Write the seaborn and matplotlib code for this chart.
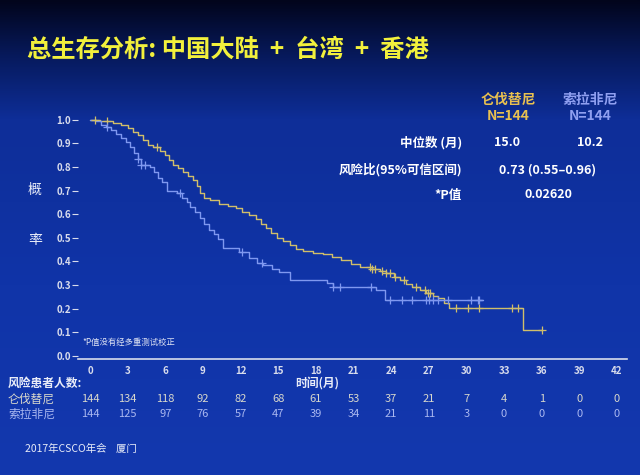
import numpy as np
import pandas as pd
import matplotlib
matplotlib.use("Agg")
import matplotlib.pyplot as plt
from matplotlib.colors import LinearSegmentedColormap
import seaborn as sns

# ----------------------------------------------------
# DATA
# ----------------------------------------------------

len_time = [0, 0.8, 1.8, 2.5, 3.0, 3.4, 3.8, 4.2, 4.6, 5.0, 5.6, 6.0, 6.3, 6.6, 7.0,
            7.4, 7.8, 8.2, 8.5, 8.8, 9.1, 9.6, 10.3, 11.0, 11.6, 12.1, 12.7, 13.2,
            13.6, 14.0, 14.4, 14.9, 15.4, 15.9, 16.4, 17.0, 17.8, 18.6, 19.3, 20.0,
            20.8, 21.5, 22.5, 23.1, 23.6, 24.2, 24.7, 25.2, 25.7, 26.3, 26.8, 27.3,
            27.7, 28.2, 28.6, 34.5, 36.0]
len_surv = [1.0, 0.993, 0.986, 0.979, 0.965, 0.95, 0.935, 0.915, 0.895, 0.885, 0.87,
            0.85, 0.83, 0.81, 0.795, 0.78, 0.76, 0.745, 0.72, 0.69, 0.67, 0.66, 0.645,
            0.635, 0.625, 0.61, 0.595, 0.58, 0.56, 0.54, 0.52, 0.50, 0.485, 0.47,
            0.455, 0.445, 0.435, 0.43, 0.42, 0.405, 0.39, 0.377, 0.37, 0.36, 0.35,
            0.335, 0.32, 0.305, 0.29, 0.28, 0.267, 0.255, 0.245, 0.225, 0.203, 0.11,
            0.11]
len_censor = [0.4, 1.35, 5.3, 22.3, 22.5, 22.7, 23.3, 23.6, 23.9, 24.3, 25.0, 26.0,
              26.7, 26.9, 27.1, 29.2, 30.1, 31.0, 33.6, 34.1, 36.0]

sor_time = [0, 0.5, 0.9, 1.3, 1.7, 2.1, 2.5, 2.9, 3.2, 3.5, 3.8, 4.1, 4.8, 5.1, 5.4,
            5.7, 6.1, 6.9, 7.3, 7.7, 8.0, 8.4, 8.8, 9.1, 9.5, 9.9, 10.2, 10.6, 11.9,
            12.7, 13.3, 13.8, 14.5, 15.1, 15.9, 18.9, 19.4, 22.8, 23.5, 31.3]
sor_surv = [1.0, 0.993, 0.98, 0.97, 0.955, 0.94, 0.925, 0.905, 0.886, 0.86, 0.835,
            0.81, 0.80, 0.78, 0.755, 0.735, 0.70, 0.69, 0.67, 0.65, 0.63, 0.61, 0.585,
            0.56, 0.535, 0.515, 0.495, 0.457, 0.44, 0.415, 0.395, 0.385, 0.37, 0.356,
            0.322, 0.31, 0.292, 0.28, 0.237, 0.237]
sor_censor = [1.35, 3.8, 4.1, 4.4, 7.2, 12.1, 13.7, 19.4, 19.9, 22.4, 23.9, 24.9, 25.7,
              26.8, 27.0, 27.3, 27.7, 28.5, 30.4, 30.9, 31.0]

xticks = list(range(0, 43, 3))
yticks = [0.0, 0.1, 0.2, 0.3, 0.4, 0.5, 0.6, 0.7, 0.8, 0.9, 1.0]
risk_len = [144, 134, 118, 92, 82, 68, 61, 53, 37, 21, 7, 4, 1, 0, 0]
risk_sor = [144, 125, 97, 76, 57, 47, 39, 34, 21, 11, 3, 0, 0, 0, 0]

arm_names = ["仑伐替尼", "索拉非尼"]
medians = ["15.0", "10.2"]
hazard_ratio = "0.73 (0.55–0.96)"
p_value = "0.02620"

LEN_COLOR = "#d0be6a"
SOR_COLOR = "#7f98f0"

# ----------------------------------------------------
# FIGURE
# ----------------------------------------------------

sns.set_style("white")
plt.rcParams["font.family"] = ["Noto Sans CJK SC", "DejaVu Sans"]

fig = plt.figure(figsize=(6.4, 4.75), dpi=100)

# gradient background
bg = fig.add_axes([0, 0, 1, 1], zorder=-10)
cmap = LinearSegmentedColormap.from_list(
    "slide", [(0.0, "#02051c"), (0.12, "#071a5e"), (0.25, "#0e2e98"),
              (0.6, "#1034a8"), (1.0, "#1338ae")])
grad = np.linspace(0, 1, 256).reshape(-1, 1)
bg.imshow(grad, aspect="auto", cmap=cmap, extent=[0, 1, 0, 1], origin="upper")
bg.set_axis_off()

ax = fig.add_axes([0.1219, 0.2442, 0.8578, 0.5284])
ax.set_facecolor("none")


def step_value(times, surv, t):
    idx = np.searchsorted(times, t, side="right") - 1
    return surv[max(idx, 0)]


for times, surv, cens, color in [(len_time, len_surv, len_censor, LEN_COLOR),
                                 (sor_time, sor_surv, sor_censor, SOR_COLOR)]:
    df = pd.DataFrame({"t": times, "s": surv})
    sns.lineplot(data=df, x="t", y="s", ax=ax, color=color, lw=1.0,
                 drawstyle="steps-post", sort=False, estimator=None)
    cdf = pd.DataFrame({"t": cens, "s": [step_value(times, surv, c) for c in cens]})
    sns.scatterplot(data=cdf, x="t", y="s", ax=ax, color=color, marker="+",
                    s=28, linewidth=0.9, zorder=3)

ax.set_xlim(-0.96, 42.8)
ax.set_ylim(-0.013, 1.05)
ax.set_xticks(xticks)
ax.set_yticks(yticks)
ax.set_yticklabels([f"{v:.1f}" for v in yticks])
ax.set_xlabel("")
ax.set_ylabel("")
for side in ["top", "right", "left"]:
    ax.spines[side].set_visible(False)
ax.spines["bottom"].set_color("#d8dcec")
ax.spines["bottom"].set_linewidth(1.2)
ax.tick_params(axis="x", colors="#d8dcec", labelsize=7, length=3, width=0.8, pad=2,
               direction="out")
ax.tick_params(axis="y", colors="#d8dcec", labelsize=7, length=4, width=0.8, pad=1,
               direction="out", left=True)
for lab in ax.get_xticklabels() + ax.get_yticklabels():
    lab.set_fontweight("bold")

# ----------------------------------------------------
# TEXT
# ----------------------------------------------------

def px(x, y):
    return x / 640, 1 - y / 475


fig.text(*px(27, 50), "总生存分析: 中国大陆  +  台湾  +  香港", color="#f2f03c",
         fontsize=17.5, fontweight="bold", va="center", ha="left")

fig.text(*px(35, 190), "概", color="#e8ecf8", fontsize=10, ha="center", va="center")
fig.text(*px(35, 240), "率", color="#e8ecf8", fontsize=10, ha="center", va="center")

fig.text(*px(508, 100), arm_names[0], color="#e8c050", fontsize=10,
         fontweight="bold", ha="center", va="center")
fig.text(*px(508, 116), "N=144", color="#e8c050", fontsize=10,
         fontweight="bold", ha="center", va="center")
fig.text(*px(590, 100), arm_names[1], color="#8f9ff0", fontsize=10,
         fontweight="bold", ha="center", va="center")
fig.text(*px(590, 116), "N=144", color="#8f9ff0", fontsize=10,
         fontweight="bold", ha="center", va="center")

row_kw = dict(color="white", fontsize=9, fontweight="bold", va="center")
fig.text(*px(462, 143), "中位数 (月)", ha="right", **row_kw)
fig.text(*px(507, 143), medians[0], ha="center", **row_kw)
fig.text(*px(590, 143), medians[1], ha="center", **row_kw)
fig.text(*px(462, 170), "风险比(95%可信区间)", ha="right", **row_kw)
fig.text(*px(548, 170), hazard_ratio, ha="center", **row_kw)
fig.text(*px(462, 195), "*P值", ha="right", **row_kw)
fig.text(*px(548, 195), p_value, ha="center", **row_kw)

fig.text(*px(82, 342), "*P值没有经多重测试校正", color="#e0e4f4", fontsize=6,
         ha="left", va="center")

fig.text(*px(8, 383), "风险患者人数:", color="#e8ecf8", fontsize=8.5,
         fontweight="bold", ha="left", va="center")
fig.text(*px(317, 383), "时间(月)", color="#e8ecf8", fontsize=8.5,
         fontweight="bold", ha="center", va="center")

fig.text(*px(8, 399), arm_names[0], color="#d8d8cc", fontsize=8.5,
         ha="left", va="center")
fig.text(*px(8, 414), arm_names[1], color="#aab8f0", fontsize=8.5,
         ha="left", va="center")
for t, n1, n2 in zip(xticks, risk_len, risk_sor):
    xd = ax.transData.transform((t, 0))[0] / fig.bbox.width
    fig.text(xd, 1 - 399 / 475, str(n1), color="#d8d8cc", fontsize=8,
             ha="center", va="center")
    fig.text(xd, 1 - 414 / 475, str(n2), color="#aab8f0", fontsize=8,
             ha="center", va="center")

fig.text(*px(25, 449), "2017年CSCO年会    厦门", color="#e8ecf8", fontsize=7.5,
         ha="left", va="center")

fig.savefig("out.png", dpi=100)
plt.close(fig)
